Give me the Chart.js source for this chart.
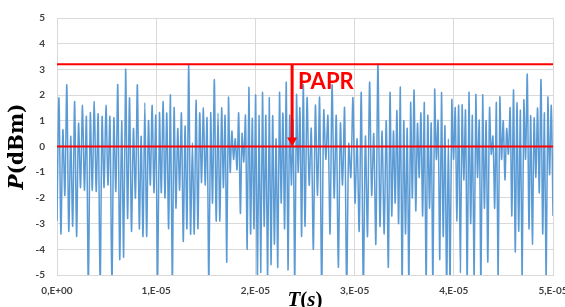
<!DOCTYPE html>
<html>
<head>
<meta charset="utf-8">
<script src="https://cdn.jsdelivr.net/npm/chart.js@4/dist/chart.umd.min.js"></script>
<style>
  html, body { margin: 0; padding: 0; background: #fff; }
  #wrap { width: 565px; height: 307px; }
</style>
</head>
<body>
<div id="wrap"><canvas id="myChart"></canvas></div>
<script>
  // P (dBm), peaks and dips in order, one list per stretch of time
  var seg1 = [-2.9, 1.9, -3.4, 0.65, -1.9, 2.4, -3.3, 0.4, -3.1, 1.75, -3.5, 0.9, -1.6, 1.6, -1.7, 1.15, -5.5, 1.3, -1.7, 1.75, -1.75, 1.25, -5.5, 1.15, -1.6, 1.6, -1.5, 1.15, -5.5, 1.1, -1.75, 2.4, -4.4, 1.0, -4.3, 3.0, -2.8, 1.9, -3.3, 0.7, -2.0, 2.4];
  var seg2 = [-3.2, 0.4, -3.5, 1.7, -3.5, 1.0, -1.5, 1.6, -1.8, 1.2, -5.5, 1.3, -1.8, 1.75, -2.0, 1.3, -3.2, 2.0, -5.5, 1.5, -2.4, 0.7, -1.7, 1.3, -3.7, 0.8, -3.2, 3.2, -3.4, 0.15, -3.4, 1.8, -3.2, 1.3, -1.4, 1.5, -1.5, 1.1, -5.5, 1.3, -2.2, 2.6, -2.9, 1.3, -2.9];
  var seg3 = [1.5, -1.6, 1.2, -4.5, 1.9, -1.0, 0.6, -0.5, 0.3, -0.9, 1.3, -2.6, 0.5, -0.6, 1.2, -4.0, 2.3, -3.4, 1.1, -3.2, 2.0, -5.5, 1.2, -4.9, 2.1, -3.1, 1.2, -5.5, 1.9, -4.6, 1.2, -3.8, 0.3, -4.7, 2.1, -2.2, 1.3, -3.2, 2.5, -4.8, 1.2, -1.5, 1.0, -5.5, 2.0, -1.0, 1.5, -3.5, 2.4];
  var seg4 = [-3.1, 1.9, -1.5, 0.7, -4.0, 1.6, -1.9, 1.9, -5.5, 1.4, -0.5, 1.2, -3.4, 2.4, -2.0, 1.2, -4.7, 0.9, -1.5, 1.5, -5.5, 0.1, -1.2, 1.9, -2.2, 0.3, -3.3, 2.1, -5.5, 0.4, -3.5, 2.5, -1.9, 0.5, -3.8, 3.2, -3.1, 0.6, -3.4, 1.0];
  var seg5 = [-4.7, 2.1, -2.7, 0.6, -2.2, 1.4, -3.0, 2.3, -5.5, 1.0, -3.4, 0.7, -5.5, 1.7, -2.0, 2.2, -2.5, 0.9, -1.2, 1.3, -2.7, 1.7, -5.5, 1.2, -2.4, 0.9, -5.5, 2.2, -0.5, 1.0, -4.4, 2.1, -3.5, 0.8, -5.5, 0.3, -5.5, 1.8, -0.5, 1.5, -2.9, 1.6, -4.9, 1.6, -1.3, 1.4, -5.5, 2.1];
  var seg6 = [-3.0, 1.2, -5.5, 2.0, -1.2, 1.0, -5.5, 2.0, -2.4, 1.0, -4.5, 1.5, -0.3, 0.4, -2.4, 1.7, -5.5, 1.9, -0.5, 1.0, -1.3, 0.7, -0.3, 1.5, -2.7, 2.2, -4.1, 1.7, -3.3, 1.4, -5.5, 1.8, -0.5, 2.8, -3.2, 1.2, -3.8, 1.1, -1.2, 1.5, -1.8, 2.6, -3.4, 1.3, -5.5, 1.9, -1.1, 1.6, -2.7];
  // start time (s) of each stretch above, last entry is the end of the record
  var segStart = [0, 0.83e-5, 1.66e-5, 2.5e-5, 3.34e-5, 4.17e-5, 5e-5];

  var peakLevel = 3.2;     // max power
  var meanLevel = 0;       // mean power
  var arrowTime = 2.37e-5;
  var labelLevel = 2.25;

  var xTickLabels = ['0,E+00', '1,E-05', '2,E-05', '3,E-05', '4,E-05', '5,E-05'];

  function buildPoints() {
    var segs = [seg1, seg2, seg3, seg4, seg5, seg6];
    var pts = [];
    segs.forEach(function(s, k) {
      var n = (k == segs.length - 1) ? s.length - 1 : s.length;
      var step = (segStart[k + 1] - segStart[k]) / n;
      s.forEach(function(v, j) {
        pts.push({ x: segStart[k] + j * step, y: v });
      });
    });
    return pts;
  }

  function flat(level) {
    return [{ x: segStart[0], y: level }, { x: segStart[segStart.length - 1], y: level }];
  }

  var paprPlugin = {
    id: 'papr',
    afterDatasetsDraw: function(chart) {
      var ctx = chart.ctx, x = chart.scales.x, y = chart.scales.y;
      var px = x.getPixelForValue(arrowTime);
      var yTop = y.getPixelForValue(peakLevel);
      var yBot = y.getPixelForValue(meanLevel);
      ctx.save();
      ctx.strokeStyle = '#ff0000';
      ctx.fillStyle = '#ff0000';
      ctx.lineWidth = 3;
      ctx.beginPath();
      ctx.moveTo(px, yTop);
      ctx.lineTo(px, yBot - 8);
      ctx.stroke();
      ctx.beginPath();
      ctx.moveTo(px - 5, yBot - 9);
      ctx.lineTo(px + 5, yBot - 9);
      ctx.lineTo(px, yBot);
      ctx.closePath();
      ctx.fill();
      ctx.font = 'bold 22px Lato';
      ctx.textBaseline = 'alphabetic';
      ctx.textAlign = 'left';
      ctx.fillText('PAPR', px + 6, y.getPixelForValue(labelLevel));
      ctx.restore();
    },
    afterDraw: function(chart) {
      var ctx = chart.ctx, area = chart.chartArea;
      ctx.save();
      ctx.fillStyle = '#000';
      ctx.textBaseline = 'middle';

      // y title: P(dBm), P italic
      var f1 = 'italic bold 20px "DejaVu Serif"', f2 = 'bold 20px "DejaVu Serif"';
      ctx.font = f1; var wP = ctx.measureText('P').width;
      ctx.font = f2; var wR = ctx.measureText('(dBm)').width;
      ctx.translate(18, (area.top + area.bottom) / 2);
      ctx.rotate(-Math.PI / 2);
      var sx = -(wP + wR) / 2;
      ctx.font = f1; ctx.fillText('P', sx, 0);
      ctx.font = f2; ctx.fillText('(dBm)', sx + wP, 0);
      ctx.setTransform(1, 0, 0, 1, 0, 0);

      // x title: T(s), T and s italic
      var g1 = 'italic bold 21px "Liberation Serif"', g2 = 'bold 21px "Liberation Serif"';
      var parts = [['T', g1], ['(', g2], ['s', g1], [')', g2]];
      var tw = 0;
      parts.forEach(function(p) { ctx.font = p[1]; tw += ctx.measureText(p[0]).width; });
      var cx = (area.left + area.right) / 2 - tw / 2;
      ctx.textBaseline = 'alphabetic';
      parts.forEach(function(p) {
        ctx.font = p[1];
        ctx.fillText(p[0], cx, 306);
        cx += ctx.measureText(p[0]).width;
      });
      ctx.restore();
    }
  };

  var ctx = document.getElementById('myChart').getContext('2d');
  var myChart = new Chart(ctx, {
    type: 'line',
    data: {
      datasets: [{
        data: flat(peakLevel),
        borderColor: '#ff0000',
        borderWidth: 2,
        pointRadius: 0,
        tension: 0,
        order: 0
      }, {
        data: flat(meanLevel),
        borderColor: '#ff0000',
        borderWidth: 2,
        pointRadius: 0,
        tension: 0,
        order: 0
      }, {
        data: buildPoints(),
        borderColor: '#5b9bd5',
        borderWidth: 1.5,
        pointRadius: 0,
        tension: 0.3,
        order: 1
      }]
    },
    options: {
      responsive: true,
      maintainAspectRatio: false,
      animation: false,
      layout: { padding: { top: 18, right: 12, left: 0, bottom: 0 } },
      plugins: {
        legend: { display: false },
        tooltip: { enabled: false }
      },
      scales: {
        x: {
          type: 'linear',
          min: 0,
          max: 5e-5,
          grid: { color: '#d9d9d9', drawTicks: false },
          border: { color: '#d9d9d9' },
          ticks: {
            stepSize: 1e-5,
            padding: 10,
            maxRotation: 0,
            color: '#404040',
            font: { family: 'Lato', size: 10, weight: 'bold' },
            callback: function(v, i) { return xTickLabels[i]; }
          },
          afterFit: function(s) { s.height = 32; s.paddingLeft = 0; s.paddingRight = 0; }
        },
        y: {
          min: -5,
          max: 5,
          grid: { color: '#d9d9d9', drawTicks: false },
          border: { color: '#d9d9d9' },
          ticks: {
            stepSize: 1,
            padding: 12,
            color: '#404040',
            font: { family: 'Lato', size: 10, weight: 'bold' }
          },
          afterFit: function(s) { s.width = 57; s.paddingTop = 0; s.paddingBottom = 0; }
        }
      }
    },
    plugins: [paprPlugin]
  });
</script>
</body>
</html>
